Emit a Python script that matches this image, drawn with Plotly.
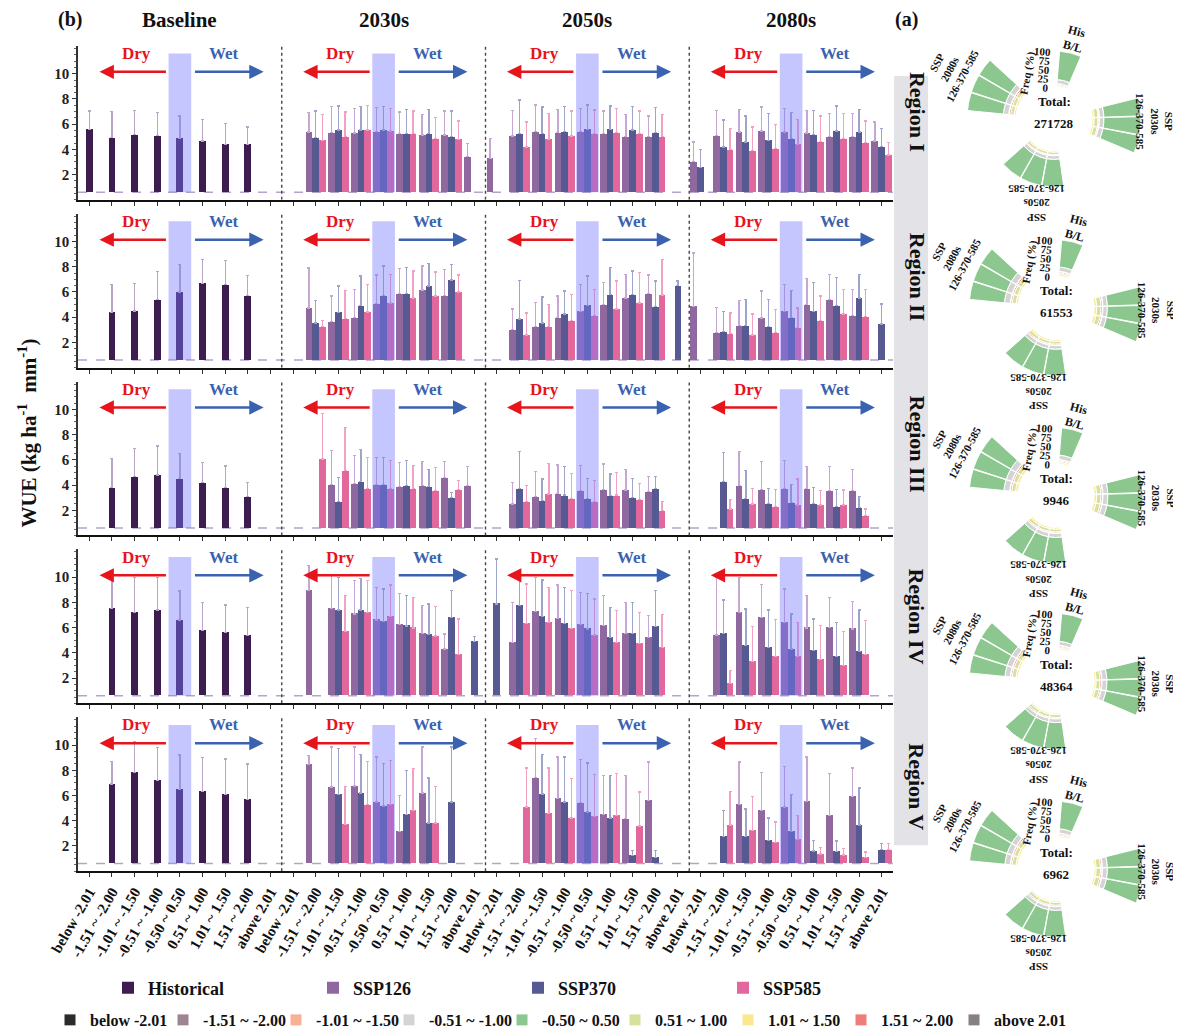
import plotly.graph_objects as go

W, H = 1181, 1029
N = None

# ---------------- categories / labels ----------------
CATS = ["below -2.01", "-1.51 ~ -2.00", "-1.01 ~ -1.50", "-0.51 ~ -1.00",
        "-0.50 ~ 0.50", "0.51 ~ 1.00", "1.01 ~ 1.50", "1.51 ~ 2.00", "above 2.01"]
PERIODS = ["Baseline", "2030s", "2050s", "2080s"]
REGIONS = ["Region I", "Region II", "Region III", "Region IV", "Region V"]
TOTALS = ["271728", "61553", "9946", "48364", "6962"]

# ---------------- WUE (kg ha-1 mm-1): baseline (9 categories) per region ----------------
HIST_MEAN = [
    [5.58, 4.92, 5.16, 5.10, 4.87, 4.66, 4.39, 4.39, N],
    [N, 4.4, 4.5, 5.4, 6.0, 6.7, 6.6, 5.7, N],
    [N, 3.8, 4.7, 4.8, 4.5, 4.2, 3.8, 3.1, N],
    [N, 7.5, 7.2, 7.4, 6.6, 5.8, 5.6, 5.4, N],
    [N, 6.9, 7.8, 7.2, 6.5, 6.3, 6.1, 5.7, N],
]
HIST_UP = [
    [7.04, 6.98, 7.06, 6.90, 6.64, 6.37, 6.06, 5.77, N],
    [N, 6.6, 6.7, 7.6, 8.2, 8.6, 8.5, 7.3, N],
    [N, 6.1, 6.9, 7.1, 6.5, 5.8, 5.5, 4.2, N],
    [N, 10.1, 10.0, 10.0, 8.9, 8.0, 7.8, 7.6, N],
    [N, 8.7, 10.3, 9.8, 9.2, 9.0, 8.9, 8.5, N],
]

# future: 27 values = 2030s(9) + 2050s(9) + 2080s(9)
SSP126_MEAN = [
    [N, 5.37, 5.32, 5.29, 5.40, 5.24, 5.13, 5.13, 3.41,
     3.28, 5.05, 5.40, 5.32, 5.40, 5.26, 5.00, 5.00, N,
     3.02, 5.10, 5.37, 5.45, 5.37, 5.29, 5.02, 5.02, 4.66],
    [N, 4.73, 3.67, 3.99, 5.08, 5.88, 6.15, 5.72, N,
     N, 3.00, 3.27, 3.99, 4.47, 5.00, 5.53, 5.88, N,
     4.87, 2.79, 3.35, 3.93, 4.47, 5.00, 5.40, 4.12, N],
    [N, N, 4.07, 4.15, 4.07, 3.89, 3.99, 4.60, 3.94,
     N, 2.49, 3.10, 3.33, 3.55, 3.67, 3.60, 3.47, N,
     N, N, 3.94, 3.62, 3.73, 3.73, 3.55, 3.55, N],
    [N, 8.94, 7.54, 7.09, 6.61, 6.24, 5.56, 4.31, N,
     N, 4.84, 7.30, 6.75, 6.24, 6.16, 5.56, 5.24, N,
     N, 5.42, 7.22, 6.83, 6.43, 5.98, 6.03, 5.90, N],
    [N, 8.47, 6.67, 6.75, 5.48, 3.17, 6.21, N, N,
     N, N, 7.40, 5.74, 5.42, 4.47, 4.15, 5.61, N,
     N, N, 5.29, 4.82, 5.08, 5.53, 4.42, 5.93, N],
]
SSP126_UP = [
    [N, 6.90, 7.38, 7.25, 7.33, 6.96, 6.77, 7.04, 4.47,
     4.84, 7.09, 7.51, 7.17, 7.22, 7.04, 6.77, 6.64, N,
     4.58, 7.09, 7.17, 7.35, 7.22, 7.09, 6.83, 6.83, 6.16],
    [N, 7.90, 5.67, 6.20, 7.35, 7.88, 8.07, 7.80, N,
     N, 4.65, 5.19, 5.67, 6.60, 6.73, 7.40, 7.35, N,
     9.10, 4.79, 5.32, 6.07, 6.60, 7.08, 7.40, 6.20, N],
    [N, N, 6.72, 6.37, 6.19, 5.79, 5.87, 5.85, 5.45,
     N, 4.20, 5.05, 5.58, 5.53, 5.66, 5.21, 4.66, N,
     N, N, 6.67, 5.87, 5.93, 5.48, 5.45, 5.21, N],
    [N, 10.93, 10.13, 9.74, 9.21, 8.73, 7.75, 5.50, N,
     N, 8.02, 10.00, 9.39, 8.81, 8.54, 8.02, 6.96, N,
     N, 10.00, 10.00, 9.42, 9.07, 8.54, 8.41, 8.07, N],
    [N, 9.18, 9.84, 9.84, 9.05, 6.01, 9.84, N, N,
     N, N, 10.50, 9.05, 8.83, 7.60, 7.60, 8.65, N,
     N, N, 8.65, 7.80, 8.31, 9.05, 7.72, 8.17, N],
]
SSP370_MEAN = [
    [N, 4.92, 5.53, 5.53, 5.53, 5.26, 5.26, 5.00, N,
     N, 5.26, 5.26, 5.40, 5.58, 5.58, 5.53, 5.32, N,
     2.59, 4.18, 4.58, 4.71, 4.84, 5.18, 5.45, 5.37, 4.23],
    [N, 3.53, 4.39, 4.92, 5.72, 5.88, 6.47, 6.95, N,
     N, 3.85, 3.53, 4.25, 4.95, 5.80, 5.80, 4.84, 6.52,
     N, 2.87, 3.35, 3.27, 3.99, 4.47, 4.92, 5.53, 3.45],
    [N, N, 2.67, 4.26, 4.07, 3.94, 3.89, 3.02, N,
     N, 3.73, 2.75, 3.20, 2.94, 3.15, 3.02, 3.73, N,
     N, 4.26, 2.94, 2.56, 2.60, 2.56, 2.30, 2.22, N],
    [N, N, 7.40, 7.40, 6.51, 6.14, 5.45, 6.83, 4.92,
     7.88, 7.75, 6.88, 6.35, 5.90, 5.24, 5.56, 6.11, N,
     N, 5.56, 4.58, 4.44, 4.31, 4.18, 3.73, 4.13, N],
    [N, N, 6.06, 6.21, 5.16, 4.50, 3.83, 5.48, N,
     N, N, 6.13, 5.48, 4.68, 4.21, 1.25, 1.06, N,
     N, 2.75, 2.75, 2.44, 3.17, 1.59, 1.56, 3.67, 1.69],
]
SSP370_UP = [
    [N, 7.04, 7.43, 7.41, 7.38, 7.17, 7.17, 7.04, N,
     N, 7.91, 7.35, 7.38, 7.51, 7.43, 7.38, 7.30, N,
     3.99, 6.32, 6.64, 6.83, 6.90, 7.09, 7.43, 7.17, 5.63],
    [N, 5.30, 6.47, 7.27, 8.07, 7.93, 8.25, 8.20, N,
     N, 6.92, 5.60, 6.07, 7.27, 7.93, 7.67, 6.87, 6.87,
     N, 4.47, 5.40, 5.40, 6.12, 6.73, 7.13, 7.40, 5.05],
    [N, N, 4.60, 6.80, 6.19, 5.93, 5.26, 3.40, N,
     N, 6.67, 4.47, 5.45, 4.52, 4.87, 4.52, 4.66, N,
     N, 6.59, 5.13, 3.73, 4.07, 3.81, 3.67, 3.10, N],
    [N, N, 10.00, 9.92, 9.07, 8.54, 7.88, 8.94, 5.32,
     11.45, 10.00, 9.79, 9.21, 8.73, 7.62, 8.02, 8.94, N,
     N, 8.20, 7.48, 7.40, 7.09, 6.69, 6.43, 7.40, N],
    [N, N, 9.71, 9.23, 8.52, 7.99, 7.38, 9.84, N,
     N, N, 9.26, 9.05, 8.57, 7.60, 1.64, 1.64, N,
     N, 4.82, 4.94, 4.21, 6.06, 2.44, 2.38, 6.59, 2.17],
]
SSP585_MEAN = [
    [N, 4.71, 5.00, 5.53, 5.45, 5.26, 4.84, 4.79, N,
     N, 4.20, 4.79, 5.05, 5.24, 5.32, 5.26, 5.00, N,
     N, 3.99, 3.91, 4.07, 4.39, 4.60, 4.84, 4.52, 3.55],
    [N, 3.27, 3.88, 4.41, 5.13, 5.53, 5.67, 6.01, N,
     N, 2.60, 3.27, 3.72, 4.12, 4.65, 5.13, 5.75, N,
     N, 2.68, 2.60, 2.79, 3.19, 3.72, 4.25, 4.07, N],
    [N, 6.06, 5.13, 3.73, 3.73, 3.73, 3.55, 3.67, N,
     N, 2.67, 3.28, 2.96, 2.70, 3.20, 2.83, 1.96, N,
     N, 2.09, 2.49, 2.28, 2.41, 2.41, 2.41, 1.56, N],
    [N, N, 5.71, 7.22, 6.88, 5.98, 5.34, 3.86, N,
     N, 6.35, 6.43, 5.95, 5.42, 4.84, 4.76, 4.44, N,
     N, 1.59, 3.33, 3.73, 3.73, 3.47, 2.99, 3.86, N],
    [N, N, 3.71, 5.26, 5.29, 4.82, 3.83, N, N,
     N, 5.08, 4.55, 4.21, 4.34, 4.40, 3.57, N, N,
     N, 3.67, 3.23, 2.25, 2.52, 1.37, 1.29, 1.11, 1.69],
]
SSP585_UP = [
    [N, 6.77, 6.96, 7.46, 7.22, 7.04, 6.51, 6.24, N,
     N, 6.16, 6.85, 7.04, 7.12, 7.22, 7.04, 6.77, N,
     N, 5.63, 5.77, 5.98, 6.37, 6.64, 6.83, 6.24, 4.52],
    [N, 3.75, 6.10, 6.60, 7.40, 7.67, 7.59, 7.35, N,
     N, 4.33, 5.00, 5.80, 6.20, 6.87, 7.53, 8.60, N,
     N, 4.33, 4.25, 4.60, 4.73, 5.67, 6.20, 6.20, N],
    [N, 9.70, 8.57, 6.19, 5.93, 5.53, 5.40, 4.34, N,
     N, 3.99, 5.71, 4.92, 4.34, 5.00, 4.13, 2.70, N,
     N, 2.88, 3.75, 3.67, 4.47, 3.55, 3.60, 2.09, N],
    [N, N, 8.54, 9.74, 9.39, 8.41, 7.67, 6.69, N,
     N, 9.47, 9.21, 8.94, 8.28, 7.36, 7.22, 7.04, N,
     N, 2.59, 6.08, 6.64, 6.43, 6.16, 5.71, 6.56, N],
    [N, N, 6.72, 8.70, 8.78, 8.12, 6.72, N, N,
     N, 8.17, 8.17, 7.33, 7.64, 7.72, 6.27, N, N,
     N, 6.33, 5.93, 3.89, 4.42, 1.85, 1.77, 1.51, 2.17],
]

# ---------------- panel (a): frequency (%) of classes ----------------
# bar order: His B/L, 2030s(126,370,585), 2050s(126,370,585), 2080s(126,370,585)
FREQ_BELOW_201 = [[0, 0, 0, 0, 0, 0, 0, 0, 0, 0], [0, 0, 0, 0, 0, 0, 0, 0, 0, 0],
                  [0, 0, 0, 0, 0, 0, 0, 0, 0, 0], [0, 0, 0, 0, 0, 0, 0, 0, 0, 0],
                  [0, 0, 0, 0, 0, 0, 0, 0, 0, 0]]
FREQ_151_200N = [[0, 0, 0, 0, 0, 0, 0, 0, 0, 0], [0, 0, 0, 0, 0, 0, 0, 0, 0, 0],
                 [0, 0, 0, 0, 0, 0, 0, 0, 0, 0], [0, 0, 0, 0, 0, 0, 0, 0, 0, 0],
                 [0, 0, 0, 0, 0, 0, 0, 0, 0, 0]]
FREQ_101_150N = [[1, 1, 1, 1, 1, 1, 1, 1, 1, 1], [1, 1, 1, 1, 1, 1, 1, 1, 1, 1],
                 [1, 1, 1, 1, 1, 1, 1, 1, 1, 1], [1, 1, 1, 1, 1, 1, 1, 1, 1, 1],
                 [1, 1, 1, 1, 1, 1, 1, 1, 1, 1]]
FREQ_051_100N = [[11, 9, 9, 9, 10, 10, 10, 11, 11, 11], [12, 9, 9, 9, 10, 10, 10, 12, 12, 12],
                 [12, 10, 10, 10, 11, 11, 11, 12, 12, 12], [11, 10, 10, 10, 10, 10, 10, 11, 11, 11],
                 [12, 10, 10, 10, 10, 10, 10, 11, 11, 11]]
FREQ_NORMAL = [[79, 76, 76, 76, 76, 76, 76, 74, 74, 74], [75, 73, 73, 73, 73, 73, 73, 72, 72, 72],
               [76, 72, 72, 72, 72, 72, 72, 71, 71, 71], [77, 74, 74, 74, 74, 74, 74, 73, 73, 73],
               [76, 73, 73, 73, 74, 74, 74, 73, 73, 73]]
FREQ_051_100P = [[3, 8, 8, 8, 7, 7, 7, 7, 7, 7], [4, 9, 9, 9, 8, 8, 8, 8, 8, 8],
                 [4, 9, 9, 9, 8, 8, 8, 8, 8, 8], [4, 8, 8, 8, 8, 8, 8, 8, 8, 8],
                 [4, 9, 9, 9, 8, 8, 8, 8, 8, 8]]
FREQ_101_150P = [[3, 4, 4, 4, 4, 4, 4, 4, 4, 4], [5, 5, 5, 5, 5, 5, 5, 4, 4, 4],
                 [4, 5, 5, 5, 5, 5, 5, 5, 5, 5], [4, 4, 4, 4, 4, 4, 4, 4, 4, 4],
                 [4, 4, 4, 4, 4, 4, 4, 4, 4, 4]]
FREQ_151_200P = [[3, 2, 2, 2, 2, 2, 2, 3, 3, 3], [3, 3, 3, 3, 3, 3, 3, 3, 3, 3],
                 [3, 3, 3, 3, 3, 3, 3, 3, 3, 3], [3, 3, 3, 3, 3, 3, 3, 3, 3, 3],
                 [3, 3, 3, 3, 3, 3, 3, 3, 3, 3]]
FREQ_ABOVE_201 = [[0, 0, 0, 0, 0, 0, 0, 0, 0, 0], [0, 0, 0, 0, 0, 0, 0, 0, 0, 0],
                  [0, 0, 0, 0, 0, 0, 0, 0, 0, 0], [0, 0, 0, 0, 0, 0, 0, 0, 0, 0],
                  [0, 0, 0, 0, 0, 0, 0, 0, 0, 0]]

# ---------------- styling ----------------
FONT = "Liberation Serif"
C_HIST, C_126, C_370, C_585 = "#3d1d50", "#9068a0", "#575a92", "#e2679c"
E_HIST, E_126, E_370, E_585 = "#b9a6c6", "#c6a6d2", "#9fa4c9", "#f1a2c2"
RED, BLUE = "#e8141c", "#3a62b0"
BASE = 0.6
YMAX = 12.2
X0PX, X1PX = 70, 885
ROW_TOP, ROW_H, ROW_STEP = 38, 154, 168
DY = -6  # visual centring correction for paper annotations


def pxx(x):
    return x / W


def pxy(y):
    return 1 - y / H


def heights(mean):
    return [None if m is None else m - BASE for m in mean]


def errs(mean, up):
    return [0 if (m is None or u is None) else u - m for m, u in zip(mean, up)]


fig = go.Figure()

series = [
    ("Historical", C_HIST, E_HIST, -0.15, HIST_MEAN, HIST_UP, 0),
    ("SSP126", C_126, E_126, -0.45, SSP126_MEAN, SSP126_UP, 9),
    ("SSP370", C_370, E_370, -0.15, SSP370_MEAN, SSP370_UP, 9),
    ("SSP585", C_585, E_585, 0.15, SSP585_MEAN, SSP585_UP, 9),
]

for r in range(5):
    ax = "" if r == 0 else str(r + 1)
    for name, col, ecol, off, MEAN, UP, start in series:
        mean = MEAN[r]
        up = UP[r]
        xs = list(range(start, start + len(mean)))
        fig.add_trace(go.Bar(
            x=xs, y=heights(mean), base=BASE, offset=off, width=0.3,
            marker=dict(color=col, line=dict(width=0)),
            error_y=dict(type="data", symmetric=False, array=errs(mean, up),
                         arrayminus=[0] * len(mean), color=ecol, thickness=1.3, width=1.5),
            name="<b>%s</b>" % name, legendgroup=name, showlegend=(r == 0),
            legend="legend", xaxis="x" + ax, yaxis="y" + ax,
        ))

shapes = []
annotations = []
tickvals = list(range(36))
ticktext = CATS * 4

layout_axes = {}
for r in range(5):
    ax = "" if r == 0 else str(r + 1)
    top = ROW_TOP + r * ROW_STEP
    bot = top + ROW_H
    layout_axes["xaxis" + ax] = dict(
        domain=[pxx(X0PX), pxx(X1PX)], range=[-0.5, 35.5], anchor="y" + ax,
        showline=True, linecolor="#111", linewidth=2, ticks="outside", ticklen=4,
        tickcolor="#333", tickvals=tickvals, ticktext=ticktext,
        showticklabels=(r == 4), tickangle=-60,
        tickfont=dict(family=FONT, size=15, color="#111", weight="bold"),
        showgrid=False, zeroline=False, automargin=False, fixedrange=True)
    layout_axes["yaxis" + ax] = dict(
        domain=[pxy(bot), pxy(top)], range=[0, YMAX], anchor="x" + ax,
        showline=True, linecolor="#333", linewidth=1.5, ticks="outside", ticklen=4,
        tickcolor="#333", tickvals=[2, 4, 6, 8, 10],
        minor=dict(ticks="outside", ticklen=2, dtick=0.5, tickcolor="#666"),
        tickfont=dict(family=FONT, size=15, color="#222", weight="bold"),
        showgrid=False, zeroline=False, automargin=False, fixedrange=True)
    xr, yr = "x" + ax, "y" + ax
    shapes.append(dict(type="line", xref=xr, yref=yr, x0=-0.5, x1=35.5, y0=BASE, y1=BASE,
                       line=dict(color="#b7a3c9", width=1.5, dash="dash"), layer="below"))
    for c in range(4):
        s = 9 * c
        if c > 0:
            shapes.append(dict(type="line", xref=xr, yref=yr, x0=s - 0.5, x1=s - 0.5,
                               y0=0, y1=YMAX, line=dict(color="#444", width=1.4, dash="dot")))
        shapes.append(dict(type="rect", xref=xr, yref=yr, x0=s + 3.5, x1=s + 4.5,
                           y0=BASE, y1=11.6, fillcolor="rgba(120,120,255,0.42)",
                           line=dict(width=0), layer="above"))
        annotations.append(dict(xref=xr, yref=yr, x=s + 2.1, y=11.6, text="<b>Dry</b>",
                                showarrow=False, font=dict(family=FONT, size=17, color=RED)))
        annotations.append(dict(xref=xr, yref=yr, x=s + 5.95, y=11.6, text="<b>Wet</b>",
                                showarrow=False, font=dict(family=FONT, size=17, color=BLUE)))
        annotations.append(dict(xref=xr, yref=yr, axref=xr, ayref=yr, x=s + 0.45, y=10.15,
                                ax=s + 3.45, ay=10.15, text="", showarrow=True, arrowhead=2,
                                arrowsize=1.15, arrowwidth=2.5, arrowcolor=RED))
        annotations.append(dict(xref=xr, yref=yr, axref=xr, ayref=yr, x=s + 7.7, y=10.15,
                                ax=s + 4.6, ay=10.15, text="", showarrow=True, arrowhead=2,
                                arrowsize=1.15, arrowwidth=2.5, arrowcolor=BLUE))


def ann(x, y, text, size, color="#111", angle=0, anchor="center"):
    annotations.append(dict(xref="paper", yref="paper", x=pxx(x), y=pxy(y + DY), text=text,
                            showarrow=False, textangle=angle, xanchor=anchor, yanchor="middle",
                            font=dict(family=FONT, size=size, color=color)))


ann(62, 18, "<b>(b)</b>", 20)
for c, p in enumerate(PERIODS):
    ann(X0PX + (9 * c + 4.5) * (X1PX - X0PX) / 36, 18, "<b>%s</b>" % p, 21)
ann(898, 18, "<b>(a)</b>", 20)
ann(20, 432, "<b>WUE (kg ha<sup>-1</sup>  mm<sup>-1</sup>)</b>", 21, angle=-90)

# region strip
shapes.append(dict(type="rect", xref="paper", yref="paper", x0=pxx(886), x1=pxx(920),
                   y0=pxy(838), y1=pxy(68), fillcolor="#e3e3e7", line=dict(width=0),
                   layer="below"))
REGION_Y = [110, 275, 442, 615, 785]
for i, rg in enumerate(REGIONS):
    ann(909, REGION_Y[i], "<b>%s</b>" % rg, 22, angle=90)

# ---------------- polar charts ----------------
CLASSES = [  # stacking order inner -> outer ; (label, colour, data, legend rank)
    ("1.01 ~ 1.50", "#fbe88e", FREQ_101_150P, 7),
    ("0.51 ~ 1.00", "#d6e29a", FREQ_051_100P, 6),
    ("1.51 ~ 2.00", "#ef7b7b", FREQ_151_200P, 8),
    ("-1.01 ~ -1.50", "#f8b195", FREQ_101_150N, 3),
    ("-0.51 ~ -1.00", "#d4d4d4", FREQ_051_100N, 4),
    ("-0.50 ~ 0.50", "#8cc78f", FREQ_NORMAL, 5),
    ("below -2.01", "#2b2b2b", FREQ_BELOW_201, 1),
    ("-1.51 ~ -2.00", "#9e8490", FREQ_151_200N, 2),
    ("above 2.01", "#878080", FREQ_ABOVE_201, 9),
]
CENTERS = [(1046, 111), (1048, 300), (1048, 488), (1048, 674), (1048, 862)]
R_SMALL, R_BIG = 68, 87
SMALL_IDX, SMALL_THETA = [0, 4, 5, 6], [76, 269, 250, 231]
BIG_IDX, BIG_THETA = [1, 2, 3, 7, 8, 9], [8, -4.5, -17, 168.5, 156, 143.5]

polars = {}
for i in range(5):
    cx, cy = CENTERS[i]
    ks = "polar%d" % (2 * i + 1) if i > 0 else "polar"
    kb = "polar%d" % (2 * i + 2)
    for key, rad, hole, idx, theta, wid in [(ks, R_SMALL, 0.47, SMALL_IDX, SMALL_THETA, 18.5),
                                             (kb, R_BIG, 0.44, BIG_IDX, BIG_THETA, 12)]:
        for label, colr, data, rank in CLASSES:
            vals = data[i]
            fig.add_trace(go.Barpolar(
                r=[vals[j] for j in idx], theta=theta, width=[wid] * len(idx),
                marker=dict(color=colr, line=dict(color="white", width=1)),
                name="<b>%s</b>" % label, legend="legend2", legendrank=rank,
                legendgroup=label, showlegend=(i == 0 and key == ks),
                subplot=key))
        is_small = key == ks
        polars[key] = dict(
            domain=dict(x=[pxx(cx - rad), pxx(cx + rad)], y=[pxy(cy + rad), pxy(cy - rad)]),
            hole=hole, bgcolor="rgba(0,0,0,0)", barmode="stack",
            angularaxis=dict(visible=False, rotation=0, direction="counterclockwise"),
            radialaxis=dict(range=[0, 100], visible=is_small, showgrid=False, showline=False,
                            ticks="", tickvals=[0, 25, 50, 75, 100], angle=86,
                            side="counterclockwise",
                            tickfont=dict(family=FONT, size=11, color="#111", weight="bold")))
    ann(cx, cy - 11, "<b>Total:</b>", 13)
    ann(cx, cy + 11, "<b>%s</b>" % TOTALS[i], 13)
    ann(cx + 20, cy - 74, "<b>His<br>B/L</b>", 12, angle=15)
    ann(cx + 100, cy + 8, "<b>SSP<br>2030s<br>126-370-585</b>", 11, angle=90)
    ann(cx - 17, cy + 90, "<b>SSP<br>2050s<br>126-370-585</b>", 11, angle=180)
    ann(cx - 104, cy - 43, "<b>SSP<br>2080s<br>126-370-585</b>", 11, angle=-62)
    ann(cx - 26, cy - 40, "<b>Freq (%)</b>", 11, angle=-80)

fig.update_layout(
    width=W, height=H, margin=dict(l=0, r=0, t=0, b=0),
    paper_bgcolor="white", plot_bgcolor="rgba(0,0,0,0)",
    barmode="overlay", bargap=0,
    shapes=shapes, annotations=annotations,
    font=dict(family=FONT, color="#111"),
    legend=dict(orientation="h", x=pxx(100), y=pxy(980), xanchor="left", yanchor="middle",
                font=dict(family=FONT, size=18, color="#111"), entrywidth=160,
                entrywidthmode="pixels", bgcolor="rgba(0,0,0,0)", traceorder="normal"),
    legend2=dict(orientation="h", x=pxx(42), y=pxy(1013), xanchor="left", yanchor="middle",
                 font=dict(family=FONT, size=16, color="#111"), bgcolor="rgba(0,0,0,0)",
                 traceorder="normal", itemwidth=30, entrywidth=68, entrywidthmode="pixels"),
    **layout_axes, **polars,
)

fig.write_html("out.html")
